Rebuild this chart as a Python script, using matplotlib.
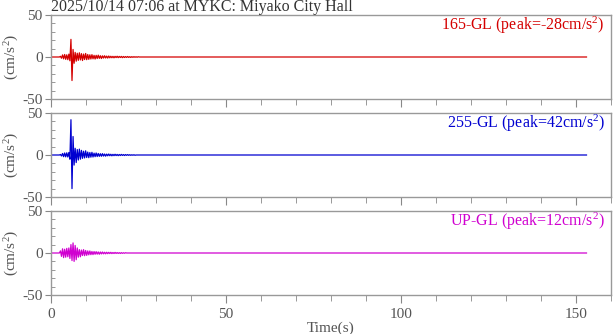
import numpy as np
import matplotlib.pyplot as plt

plt.rcParams['font.family'] = 'Liberation Serif'
plt.rcParams['mathtext.fontset'] = 'custom'
plt.rcParams['mathtext.rm'] = 'Liberation Serif'
plt.rcParams['mathtext.it'] = 'Liberation Serif:italic'
plt.rcParams['axes.unicode_minus'] = False

title = "2025/10/14 07:06 at MYKC: Miyako City Hall"
components = ["165-GL", "255-GL", "UP-GL"]
peaks = [-28, 42, 12]
colors = ["#d40000", "#0000d0", "#d000d0"]

t_start = 2.4
dt = 0.3
t_end = 153.0

acc_165 = [0.0, 0.8, -1.5, 2.5, -2.2, 3.0, -2.8, 2.6, -3.2, 3.4, -4.5, 21.0, -28.0,
           9.0, -7.5, 5.5, -5.0, 4.5, -4.0, 5.0, -3.5, 4.0, -4.2, 3.5, -3.0, 4.2,
           -3.2, 3.0, -2.8, 2.6, -2.4, 2.8, -2.2, 2.0, -2.4, 2.0, -1.8, 2.2, -1.6,
           1.5, -1.8, 1.4, -1.3, 1.5, -1.2, 1.1, -1.3, 1.2, -1.0, 0.9, -0.9, 0.8,
           -1.0, 0.8, -0.7, 0.9, -0.8, 0.7, -0.6, 0.7, -0.8, 0.6, -0.6, 0.5, -0.5,
           0.6, -0.5, 0.4, -0.5, 0.4, -0.4, 0.4, -0.3, 0.3, -0.3, 0.3, 0.0]
acc_255 = [0.0, 0.6, -1.2, 1.8, -2.0, 2.4, -2.2, 2.6, -2.4, 3.0, -5.0, 42.0, -40.0,
           22.0, -12.0, 8.0, -9.0, 6.5, -6.0, 7.0, -5.0, 5.5, -4.0, 4.5, -3.5, 5.0,
           -3.0, 3.5, -3.2, 3.0, -2.6, 3.2, -2.4, 2.2, -2.0, 2.4, -1.8, 1.8, -1.6,
           1.5, -1.5, 1.6, -1.3, 1.2, -1.4, 1.1, -1.0, 1.2, -0.9, 0.9, -1.0, 0.8,
           -0.8, 0.9, -0.7, 0.7, -0.8, 0.6, -0.6, 0.7, -0.5, 0.5, -0.6, 0.5, -0.4,
           0.5, -0.4, 0.4, -0.4, 0.3, -0.3, 0.3, -0.3, 0.0]
acc_up = [0.0, 2.5, -4.0, 5.0, -5.5, 4.5, -5.0, 5.5, -4.5, 6.0, -6.5, 10.0, -9.0,
          12.0, -10.0, 9.0, -8.0, 6.0, -5.0, 4.0, -4.5, 3.5, -3.0, 4.0, -3.2, 3.0,
          -2.8, 2.5, -2.2, 2.4, -2.0, 1.8, -1.9, 1.7, -1.5, 1.6, -1.4, 1.3, -1.5,
          1.2, -1.1, 1.2, -1.0, 0.9, -1.0, 0.9, -0.8, 0.8, -0.7, 0.8, -0.7, 0.6,
          -0.6, 0.7, -0.5, 0.5, -0.5, 0.4, -0.5, 0.4, -0.4, 0.3, -0.3, 0.3, 0.0]
traces = [acc_165, acc_255, acc_up]

x_ticks = [0, 50, 100, 150]
y_ticks = [-50, 0, 50]

fig = plt.figure(figsize=(6.13, 3.34), dpi=100)
W, H = 613, 334
left, right = 51, 611
panel_tops = [15, 113, 211]
panel_h = 84

axes = []
for i, (name, pk, col, vals) in enumerate(zip(components, peaks, colors, traces)):
    top = panel_tops[i]
    ax = fig.add_axes([left / W, 1 - (top + panel_h) / H, (right - left) / W, panel_h / H])
    t = np.concatenate([[0.0], t_start + dt * np.arange(len(vals)), [t_end]])
    a = np.concatenate([[0.0], vals, [0.0]])
    ax.plot(t, a, color=col, lw=0.9)
    ax.set_xlim(0, 160)
    ax.set_ylim(-50, 50)
    ax.set_yticks(y_ticks)
    ax.set_yticks(np.arange(-50, 51, 10), minor=True)
    ax.set_xticks(x_ticks)
    ax.set_xticks(np.arange(0, 161, 10), minor=True)
    ax.tick_params(axis='y', which='major', direction='out', length=4, color='#888888',
                   labelsize=11, labelcolor='#555555', pad=2)
    ax.tick_params(axis='y', which='minor', direction='in', length=3, color='#888888')
    ax.tick_params(axis='x', which='major', direction='out', length=6, color='#888888',
                   labelsize=11, labelcolor='#555555', pad=3)
    ax.tick_params(axis='x', which='minor', direction='out', length=4, color='#888888')
    for s in ax.spines.values():
        s.set_color('#999999')
        s.set_linewidth(1.0)
    ax.set_ylabel("(cm/s$^2$)", color='#555555', fontsize=11)
    ax.yaxis.set_label_coords(-0.054, 0.5)
    ax.text(0.989, 0.88, f"{name} (peak={pk}cm/s$^2$)", transform=ax.transAxes,
            ha='right', va='center', color=col, fontsize=11.5)
    if i < 2:
        ax.tick_params(axis='x', labelbottom=False)
    axes.append(ax)

axes[-1].set_xlabel("Time(s)", color='#555555', fontsize=11, labelpad=1)
fig.text(left / W, 1 - 11 / H, title, ha='left', va='baseline', color='#333333', fontsize=11.5)

fig.savefig("out.png", dpi=100)
